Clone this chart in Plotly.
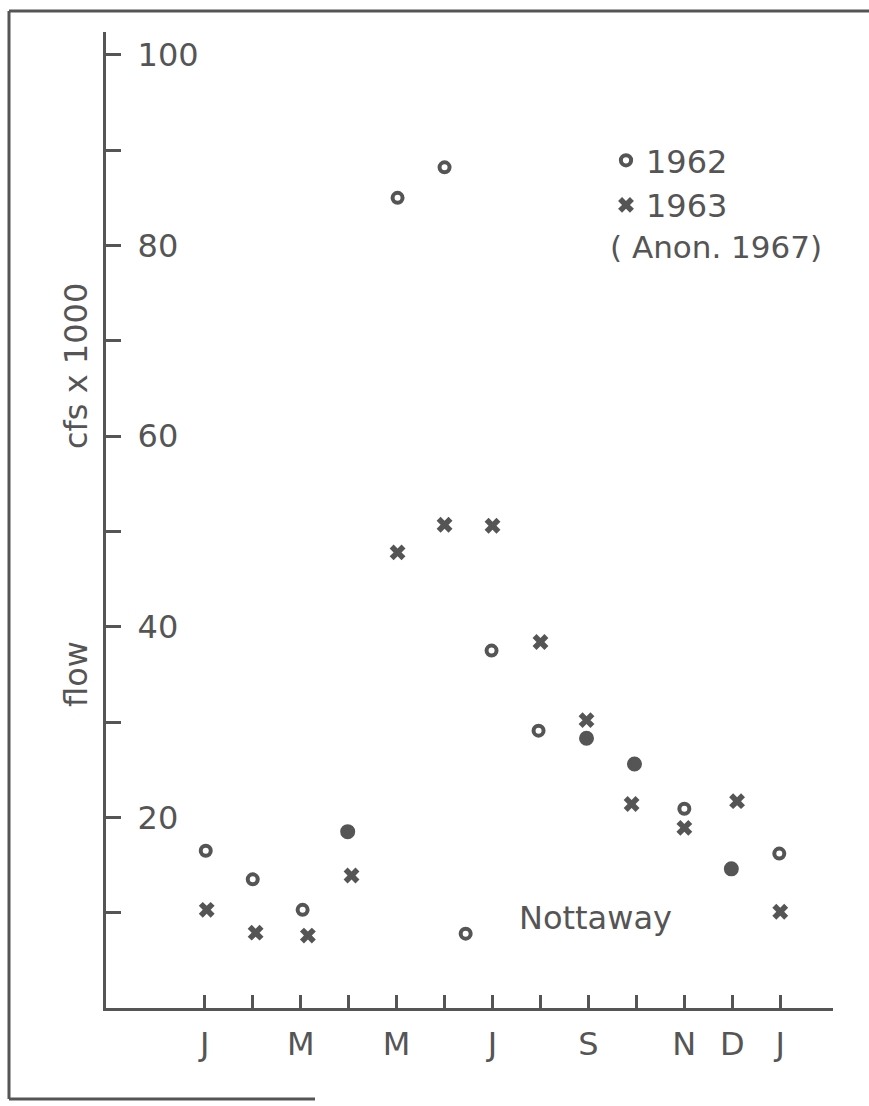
import plotly.graph_objects as go

# ---- data ----
month_ticks = list(range(13))
month_labels = ["J", "", "M", "", "M", "", "J", "", "S", "", "N", "D", "J"]

x_1962 = [0.02, 1.0, 2.04, 2.98, 4.02, 5.0, 5.44, 5.98, 6.96, 7.96, 8.96, 10.0, 10.98, 11.98]
flow_1962 = [16.5, 13.5, 10.3, 18.5, 85.0, 88.2, 7.8, 37.5, 29.1, 28.3, 25.6, 20.9, 14.6, 16.2]
filled_1962 = [False, False, False, True, False, False, False, False, False, True, True, False, True, False]

x_1963 = [0.04, 1.06, 2.15, 3.06, 4.02, 5.0, 6.0, 7.0, 7.96, 8.9, 10.0, 11.1, 12.0]
flow_1963 = [10.3, 7.9, 7.6, 13.9, 47.8, 50.7, 50.6, 38.4, 30.2, 21.4, 18.9, 21.7, 10.1]

y_ticks = [10, 20, 30, 40, 50, 60, 70, 80, 90, 100]
y_labels = ["", "20", "", "40", "", "60", "", "80", "", "100"]

INK = "#555555"
FONT = "DejaVu Sans"

fig = go.Figure()
fig.add_trace(go.Scatter(
    x=x_1962, y=flow_1962, mode="markers", name="1962",
    marker=dict(symbol=["circle" if f else "circle-open" for f in filled_1962],
                size=[11 if f else 10 for f in filled_1962], opacity=1,
                color=INK, line=dict(color=INK, width=4)),
))
fig.add_trace(go.Scatter(
    x=x_1963, y=flow_1963, mode="markers", name="1963",
    marker=dict(symbol="x", size=14, color=INK, opacity=1, line=dict(width=0)),
))

W, H = 869, 1106
L, R, T, B = 106, 36, 32, 98
pw, ph = W - L - R, H - T - B

def px(xp):
    return (xp - L) / pw

def py(yp):
    return (H - B - yp) / ph

fig.update_layout(
    width=W, height=H,
    margin=dict(l=L, r=R, t=T, b=B),
    paper_bgcolor="white", plot_bgcolor="white",
    font=dict(family=FONT, color=INK, size=30),
    showlegend=True,
    legend=dict(x=px(606), y=py(133), xanchor="left", yanchor="top",
                font=dict(size=32, family=FONT, color=INK),
                bgcolor="rgba(0,0,0,0)", tracegroupgap=0),
    xaxis=dict(range=[-2.06, 13.10], showgrid=False, zeroline=False,
               showline=True, linecolor=INK, linewidth=3,
               tickmode="array", tickvals=month_ticks, ticktext=month_labels,
               ticks="inside", ticklen=13, tickwidth=3, tickcolor=INK,
               tickfont=dict(size=32, family=FONT, color=INK),
               ticklabelstandoff=6),
    yaxis=dict(range=[0, 102.4], showgrid=False, zeroline=False,
               showline=True, linecolor=INK, linewidth=3,
               tickmode="array", tickvals=y_ticks, ticktext=y_labels,
               ticks="inside", ticklen=15, tickwidth=3, tickcolor=INK,
               ticklabelposition="inside", ticklabelstandoff=20,
               tickfont=dict(size=32, family=FONT, color=INK)),
)

def note(text, xp, yp, size, angle=0):
    return dict(text=text, x=px(xp), y=py(yp), xref="paper", yref="paper",
                xanchor="center", yanchor="middle", showarrow=False,
                textangle=angle, font=dict(size=size, family=FONT, color=INK))

fig.update_layout(annotations=[
    note("( Anon. 1967)", 716, 247, 31),
    note("Nottaway", 595, 918, 32),
    note("cfs x 1000", 76, 366, 32, -90),
    note("flow", 76, 674, 32, -90),
])

frame = dict(color=INK, width=3)
fig.add_shape(type="line", xref="paper", yref="paper",
              x0=px(9), y0=py(11), x1=px(869), y1=py(11), line=frame)
fig.add_shape(type="line", xref="paper", yref="paper",
              x0=px(9), y0=py(11), x1=px(9), y1=py(1099), line=frame)
fig.add_shape(type="line", xref="paper", yref="paper",
              x0=px(9), y0=py(1099), x1=px(315), y1=py(1099), line=frame)

fig.write_html("out.html")
